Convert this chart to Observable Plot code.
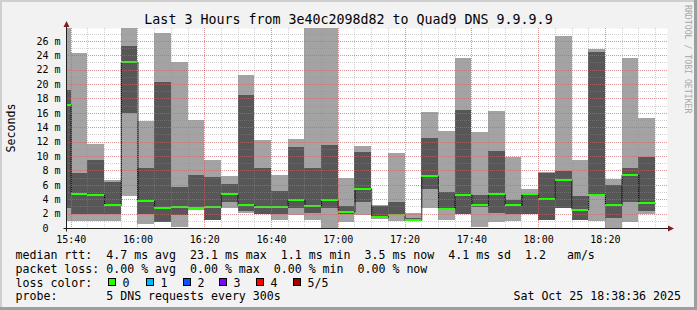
<!DOCTYPE html>
<html><head><meta charset="utf-8">
<script src="https://cdn.jsdelivr.net/npm/d3@7"></script>
<script src="https://cdn.jsdelivr.net/npm/@observablehq/plot@0.6"></script>
<style>
html,body{margin:0;padding:0;background:#f2f2f2;}
svg text{white-space:pre;}
</style></head><body><div id="chart"></div>
<script>
// ---- data ----
const startTimes = ["15:35","15:40","15:45","15:50","15:55","16:00","16:05","16:10","16:15","16:20","16:25","16:30","16:35","16:40","16:45","16:50","16:55","17:00","17:05","17:10","17:15","17:20","17:25","17:30","17:35","17:40","17:45","17:50","17:55","18:00","18:05","18:10","18:15","18:20","18:25","18:30"];
const minRtt    = [1.0, 1.0, 1.0, 1.0, 4.5, 0.5, 0.85, 0.2, 2.5, 1.1, 2.8, 2.1, 1.9, 1.1, 1.8, 1.1, 0.05, 0.9, 1.8, 1.3, 1.0, 0.97, 2.8, 1.1, 1.9, 0.2, 0.9, 1.0, 1.9, 1.1, 2.75, 1.1, 0.97, 0.0, 0.9, 1.9];
const p2Rtt     = [2.8, 2.0, 1.95, 1.95, 16.0, 1.95, 0.9, 1.8, 2.7, 1.15, 3.65, 2.3, 1.95, 1.95, 2.8, 2.05, 2.8, 2.0, 3.65, 1.35, 1.65, 1.0, 5.4, 2.5, 1.95, 2.85, 2.1, 1.95, 1.95, 1.15, 2.8, 1.15, 4.5, 1.45, 3.65, 2.3];
const medianRtt = [17.1, 4.8, 4.6, 3.2, 23.1, 3.8, 2.85, 2.95, 2.9, 2.95, 4.8, 3.2, 2.95, 2.95, 3.95, 3.1, 3.95, 2.3, 5.5, 1.55, 1.85, 1.15, 7.3, 2.7, 4.65, 3.2, 4.75, 3.2, 4.75, 4.1, 6.75, 2.6, 4.65, 3.2, 7.45, 3.5];
const p4Rtt     = [19.1, 7.6, 9.5, 6.4, 25.3, 8.4, 20.3, 5.7, 7.4, 7.1, 6.1, 18.5, 8.3, 5.15, 11.3, 8.3, 11.5, 3.05, 10.6, 3.05, 3.65, 1.35, 12.45, 4.95, 16.4, 4.55, 10.7, 3.9, 4.85, 7.7, 7.9, 4.45, 24.5, 6.0, 8.3, 9.85];
const maxRtt    = [30, 24.3, 11.7, 6.7, 30, 14.8, 27.1, 23.1, 15.0, 9.5, 7.2, 21.3, 12.2, 7.35, 12.4, 30, 30, 6.95, 11.4, 3.2, 10.45, 2.05, 16.1, 13.5, 23.65, 13.4, 16.3, 9.9, 5.4, 7.75, 26.7, 9.45, 24.9, 6.8, 23.65, 15.3];
const stepMinutes = 5;
const viewStart = "15:38:36", viewEnd = "18:38:36";
const yMax = 27.78;
const yTickValues = [0,2,4,6,8,10,12,14,16,18,20,22,24,26];

const titleText = "Last 3 Hours from 3e40c2098d82 to Quad9 DNS 9.9.9.9";
const yLabelText = "Seconds";
const sideText = "RRDTOOL / TOBI OETIKER";
const legendRow1 = "median rtt:  4.7 ms avg  23.1 ms max  1.1 ms min  3.5 ms now  4.1 ms sd  1.2   am/s";
const legendRow2 = "packet loss: 0.00 % avg  0.00 % max  0.00 % min  0.00 % now";
const lossTitle = "loss color:";
const lossLabels = ["0","1","2","3","4","5/5"];
const lossColors = ["#26ff00","#00b8ff","#0059ff","#7e00ff","#ff0000","#a10000"];
const probeRow = "probe:       5 DNS requests every 300s";
const dateText = "Sat Oct 25 18:38:36 2025";

// ---- build ----
const day = "2025-10-25T";
const toDate = t => new Date(day + (t.length === 5 ? t + ":00" : t) + "Z");
const data = startTimes.map((t, i) => {
  const start = toDate(t);
  return {start, end: d3.utcMinute.offset(start, stepMinutes),
    min: minRtt[i], p2: p2Rtt[i], med: medianRtt[i], p4: p4Rtt[i], max: maxRtt[i]};
});
const stepLine = data.map(d => ({t: d.start, v: d.med}))
  .concat([{t: data[data.length - 1].end, v: data[data.length - 1].med}]);
const xDomain = [toDate(viewStart), toDate(viewEnd)];
const minorX = d3.utcMinute.every(5).range(xDomain[0], xDomain[1]);
const majorX = d3.utcMinute.every(20).range(xDomain[0], xDomain[1]);
const minorY = d3.range(1, Math.floor(yMax) + 1);
const majorY = d3.range(2, Math.floor(yMax) + 1, 2);

const FONT = "DejaVu Sans Mono";
const gridMinor = {stroke: "#8f8f8f", strokeOpacity: 0.4, strokeDasharray: "1,1", shapeRendering: "crispEdges"};
const gridMajor = {stroke: "#de5050", strokeOpacity: 0.45, strokeDasharray: "1,1", shapeRendering: "crispEdges"};

const plot = Plot.plot({
  width: 697, height: 310,
  marginLeft: 66, marginRight: 30, marginTop: 28, marginBottom: 82,
  style: {background: "#f2f2f2", fontFamily: FONT, fontSize: "10px", color: "#000"},
  x: {type: "utc", domain: xDomain, ticks: d3.utcMinute.every(20), tickFormat: d3.utcFormat("%H:%M"),
      tickSize: 0, tickPadding: 7, label: null},
  y: {domain: [0, yMax], ticks: yTickValues, tickFormat: d => d === 0 ? "0\u00a0\u00a0" : d + " m",
      tickSize: 0, tickPadding: 6, label: null},
  marks: [
    Plot.frame({fill: "white", stroke: "none"}),
    Plot.rect(data, {x1: "start", x2: "end", y1: "min", y2: "max", fill: "#a3a3a3", clip: true, shapeRendering: "crispEdges"}),
    Plot.rect(data, {x1: "start", x2: "end", y1: "p2", y2: "p4", fill: "#575757", clip: true, shapeRendering: "crispEdges"}),
    Plot.line(stepLine, {x: "t", y: "v", curve: "step-after", stroke: "#000", strokeWidth: 1, strokeDasharray: "1,1", clip: true}),
    Plot.ruleY(data, {x1: "start", x2: "end", y: "med", stroke: lossColors[0], strokeWidth: 2, clip: true, shapeRendering: "crispEdges"}),
    Plot.ruleX(minorX, gridMinor),
    Plot.ruleY(minorY, gridMinor),
    Plot.ruleX(majorX, gridMajor),
    Plot.ruleY(majorY, gridMajor)
  ]
});
document.getElementById("chart").appendChild(plot);

// ---- decorations ----
const svg = d3.select(plot);
const xr = plot.scale("x").range, yr = plot.scale("y").range; // yr = [bottom, top]
const x0 = xr[0], x1 = xr[1], yb = yr[0], yt = yr[1];
const W = 697, H = 310;

// border shading
svg.append("rect").attr("x", 0).attr("y", 0).attr("width", W).attr("height", 2).attr("fill", "#cfcfcf");
svg.append("rect").attr("x", 0).attr("y", 0).attr("width", 2).attr("height", H).attr("fill", "#cfcfcf");
svg.append("rect").attr("x", 0).attr("y", H - 3).attr("width", W).attr("height", 3).attr("fill", "#9e9e9e");
svg.append("rect").attr("x", W - 3).attr("y", 0).attr("width", 3).attr("height", H).attr("fill", "#9e9e9e");

// axes
const ax = Math.round(x0) + 0.5, ay = Math.round(yb) + 0.5;
svg.append("line").attr("x1", ax - 3).attr("x2", Math.round(x1) + 2).attr("y1", ay).attr("y2", ay).attr("stroke", "#1f1f1f");
svg.append("line").attr("x1", ax).attr("x2", ax).attr("y1", ay + 3).attr("y2", Math.round(yt) - 2).attr("stroke", "#1f1f1f");
svg.append("path").attr("d", `M${ax - 3},${Math.round(yt) - 1}L${ax + 3},${Math.round(yt) - 1}L${ax},${Math.round(yt) - 7}Z`).attr("fill", "#801f1f");
svg.append("path").attr("d", `M${Math.round(x1) + 1},${ay - 3}L${Math.round(x1) + 1},${ay + 3}L${Math.round(x1) + 7},${ay}Z`).attr("fill", "#801f1f");

// title
svg.append("text").attr("x", W / 2).attr("y", 23.5).attr("text-anchor", "middle")
  .attr("font-family", FONT).attr("font-size", "13.3px").attr("fill", "#000").text(titleText);
// y label
svg.append("text").attr("transform", `translate(15,${(yb + yt) / 2}) rotate(-90)`).attr("text-anchor", "middle")
  .attr("font-family", FONT).attr("font-size", "11.6px").attr("fill", "#000").text(yLabelText);
// side watermark
svg.append("text").attr("transform", "translate(684.5,5) rotate(90)").attr("text-anchor", "start")
  .attr("font-family", FONT).attr("font-size", "8.2px").attr("fill", "#a8a8a8").text(sideText);

// legend
const lf = "11.6px";
const addText = (x, y, s, anchor) => svg.append("text").attr("x", x).attr("y", y)
  .attr("text-anchor", anchor || "start").attr("font-family", FONT).attr("font-size", lf)
  .attr("fill", "#000").attr("xml:space", "preserve").text(s);
addText(15.5, 259, legendRow1);
addText(15.5, 272.5, legendRow2);
addText(15.5, 286.5, lossTitle);
const boxX = [108.3, 145.7, 182.7, 219.3, 256, 293.3];
lossLabels.forEach((lab, i) => {
  svg.append("rect").attr("x", Math.round(boxX[i]) + 0.5).attr("y", 278.5).attr("width", 7).attr("height", 7)
    .attr("fill", lossColors[i]).attr("stroke", "#000").attr("stroke-width", 1);
  addText(Math.round(boxX[i]) + 14.5, 286.5, lab);
});
addText(15.5, 300, probeRow);
addText(681, 300, dateText, "end");
</script></body></html>
